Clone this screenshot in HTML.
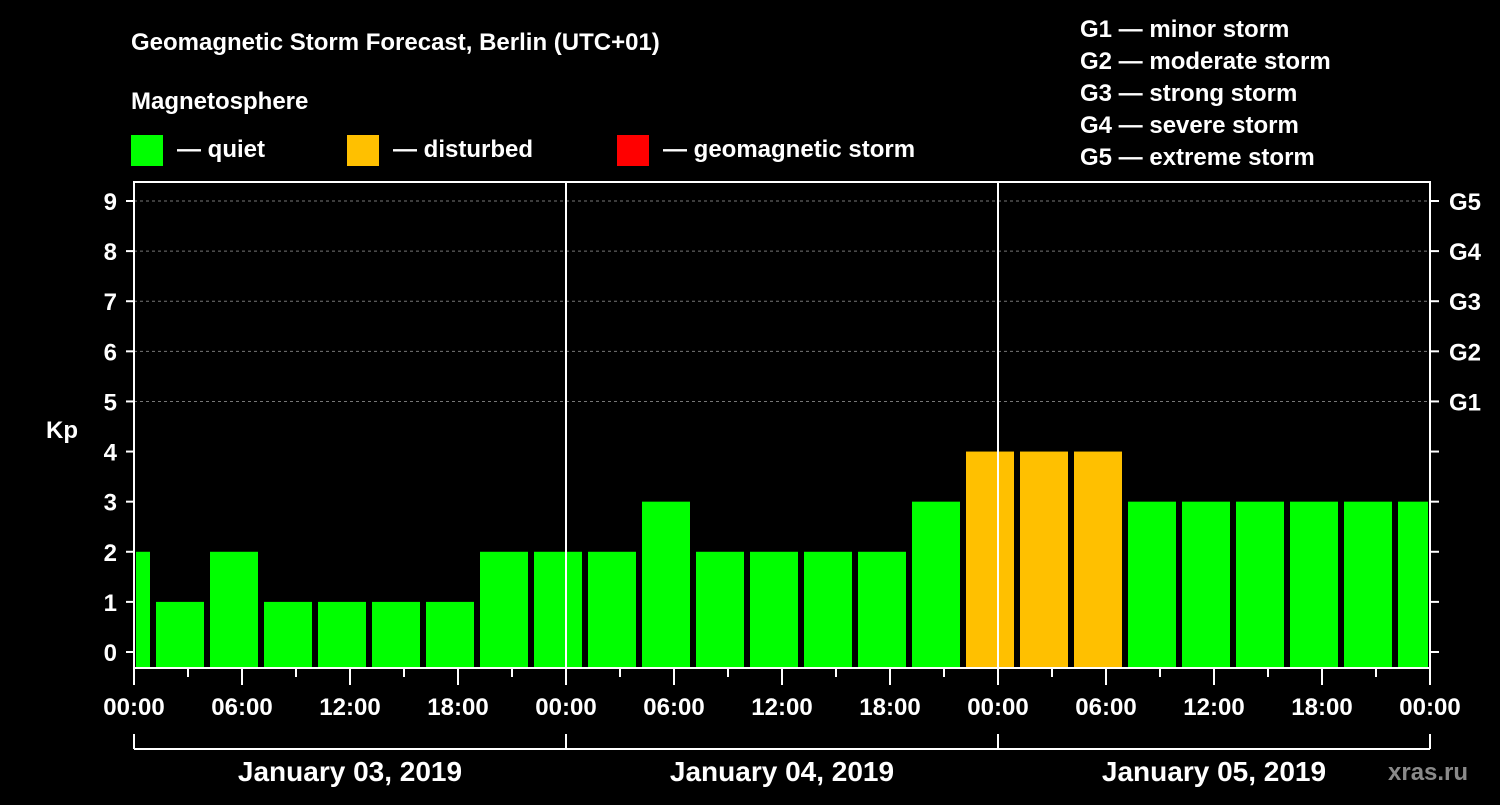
<!DOCTYPE html>
<html><head><meta charset="utf-8"><style>
body{margin:0;background:#000;width:1500px;height:800px;overflow:hidden}
svg text{font-family:"Liberation Sans",sans-serif;font-weight:bold;fill:#fff}
</style></head><body>
<svg id="c" width="1500" height="800">
<text x="131" y="50" font-size="24">Geomagnetic Storm Forecast, Berlin (UTC+01)</text>
<text x="131" y="109" font-size="24">Magnetosphere</text>
<g><rect x="131" y="135" width="32" height="31" fill="#00ff00"/><text x="177" y="157" font-size="24">— quiet</text></g>
<g><rect x="347" y="135" width="32" height="31" fill="#ffc000"/><text x="393" y="157" font-size="24">— disturbed</text></g>
<g><rect x="617" y="135" width="32" height="31" fill="#ff0000"/><text x="663" y="157" font-size="24">— geomagnetic storm</text></g>
<g font-size="24">
<text x="1080" y="37">G1 — minor storm</text><text x="1080" y="69">G2 — moderate storm</text><text x="1080" y="101">G3 — strong storm</text><text x="1080" y="133">G4 — severe storm</text><text x="1080" y="165">G5 — extreme storm</text></g>
<text x="62" y="438" font-size="24" text-anchor="middle">Kp</text>
<text x="1388" y="780" font-size="24" fill="#888" style="fill:#8a8a8a">xras.ru</text>
<g id="plot"></g>
</svg>
<script>
const hours = [-2,1,4,7,10,13,16,19,22,25,28,31,34,37,40,43,46,49,52,55,58,61,64,67,70];
const kpValues = [2,1,2,1,1,1,1,2,2,2,3,2,2,2,2,3,4,4,4,3,3,3,3,3,3];
const yTicks = [0,1,2,3,4,5,6,7,8,9];
const gLabels = ["G1","G2","G3","G4","G5"];
const timeLabels = ["00:00","06:00","12:00","18:00","00:00","06:00","12:00","18:00","00:00","06:00","12:00","18:00","00:00"];
const dateLabels = ["January 03, 2019","January 04, 2019","January 05, 2019"];
const X0=134,X1=1430,PT=182,PB=668;
const xs=h=>X0+(h)*(X1-X0)/72;
const ys=v=>652-v*(652-201)/9;
const NS="http://www.w3.org/2000/svg";
const g=document.getElementById('plot');
function mk(t,a){const e=document.createElementNS(NS,t);for(const k in a)e.setAttribute(k,a[k]);g.appendChild(e);return e;}
// grid
yTicks.forEach(v=>{if(v>=5){const l=mk('line',{x1:X0,x2:X1,y1:ys(v),y2:ys(v),stroke:'#777','stroke-dasharray':'3,3'});

}});
// bars
hours.forEach((h,i)=>{const v=kpValues[i];
let a=Math.max(xs(h)+4,X0+2),b=Math.min(xs(h+3)-2,X1-2);
const c=v>=5?'#ff0000':(v>=4?'#ffc000':'#00ff00');
const r=mk('rect',{x:a,y:ys(v),width:b-a,height:PB-ys(v),fill:c});

});
// day lines
[24,48].forEach(h=>{const l=mk('line',{x1:xs(h),x2:xs(h),y1:PT,y2:PB,stroke:'#fff','stroke-width':2});

});
// frame
const f=mk('rect',{x:X0,y:PT,width:X1-X0,height:PB-PT,fill:'none',stroke:'#fff','stroke-width':2});


// y ticks
yTicks.forEach(v=>{mk('line',{x1:X0-8,x2:X0,y1:ys(v),y2:ys(v),stroke:'#fff','stroke-width':2});
mk('line',{x1:X1,x2:X1+9,y1:ys(v),y2:ys(v),stroke:'#fff','stroke-width':2});
const t=mk('text',{x:117,y:ys(v)+9,'font-size':24,'text-anchor':'end'});t.textContent=v;

});
gLabels.forEach((s,i)=>{const t=mk('text',{x:1449,y:ys(5+i)+9,'font-size':24});t.textContent=s;

});
// x ticks
for(let h=0;h<=72;h+=3){const major=h%6===0;mk('line',{x1:xs(h),x2:xs(h),y1:PB,y2:PB+(major?17:9),stroke:'#fff','stroke-width':2});}
timeLabels.forEach((s,i)=>{const t=mk('text',{x:xs(i*6),y:715,'font-size':24,'text-anchor':'middle'});t.textContent=s;

});
// date axis
mk('line',{x1:X0,x2:X1,y1:749,y2:749,stroke:'#fff','stroke-width':2});
[0,24,48,72].forEach(h=>mk('line',{x1:xs(h),x2:xs(h),y1:734,y2:749,stroke:'#fff','stroke-width':2}));
dateLabels.forEach((s,i)=>{const t=mk('text',{x:xs(i*24+12),y:781,'font-size':28,'text-anchor':'middle'});t.textContent=s;

});
</script>
</body></html>
